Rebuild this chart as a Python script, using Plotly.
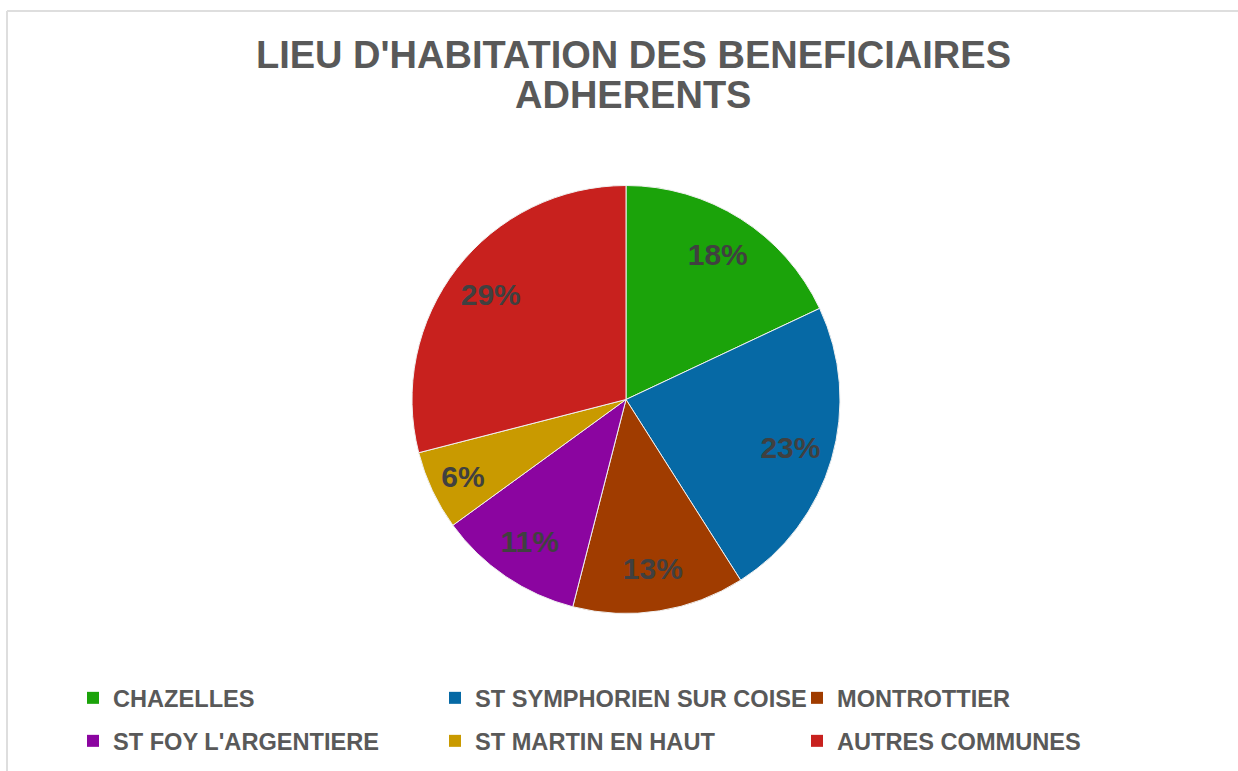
import plotly.graph_objects as go

labels = ["CHAZELLES", "ST SYMPHORIEN SUR COISE", "MONTROTTIER",
          "ST FOY L'ARGENTIERE", "ST MARTIN EN HAUT", "AUTRES COMMUNES"]
values = [18, 23, 13, 11, 6, 29]
colors = ["#1BA30A", "#0669A5", "#A03C00", "#8B05A0", "#C99A00", "#C8211E"]
title_lines = ["LIEU D'HABITATION DES BENEFICIAIRES", "ADHERENTS"]
legend_rows = [0, 0, 0, 1, 1, 1]

W, H = 1238, 771
FONT = "Liberation Sans, Arial, sans-serif"
pie_domain = dict(x=[412 / W, 840 / W], y=[1 - 614 / H, 1 - 185 / H])

fig = go.Figure()

# Filled pie (no text)
fig.add_trace(go.Pie(
    labels=labels, values=values, sort=False,
    direction="clockwise", rotation=0,
    marker=dict(colors=colors, line=dict(color="#f0f0f0", width=1)),
    textinfo="none",
    domain=pie_domain,
    showlegend=False,
    hoverinfo="label+percent",
))

# Transparent ring carrying the percentage labels further out, like the original
fig.add_trace(go.Pie(
    labels=labels, values=values, sort=False,
    direction="clockwise", rotation=0, hole=0.6,
    marker=dict(colors=["rgba(0,0,0,0)"] * len(labels), line=dict(width=0)),
    texttemplate="%{percent:.0%}",
    textposition="inside",
    insidetextorientation="horizontal",
    textfont=dict(family=FONT, size=30, color="#404040", weight="bold"),
    domain=pie_domain,
    showlegend=False,
    hoverinfo="skip",
))

# Legend entries (two rows of three)
for lab, col, row in zip(labels, colors, legend_rows):
    fig.add_trace(go.Scatter(
        x=[None], y=[None], mode="markers", name=lab,
        marker=dict(symbol="square", size=12, color=col),
        legend="legend" if row == 0 else "legend2",
        showlegend=True,
    ))

annotations = []
for i, line in enumerate(title_lines):
    annotations.append(dict(
        text="<b>" + line + "</b>", x=633 / W, y=1 - (55 + 40 * i) / H,
        xref="paper", yref="paper", xanchor="center", yanchor="middle",
        showarrow=False,
        font=dict(family=FONT, size=38, color="#595959"),
    ))

legend_common = dict(
    orientation="h",
    x=73 / W, xanchor="left", yanchor="middle",
    entrywidth=317, entrywidthmode="pixels",
    itemwidth=30,
    font=dict(family=FONT, size=23.6, color="#595959", weight="bold"),
    traceorder="normal",
    bgcolor="rgba(0,0,0,0)",
    itemclick=False, itemdoubleclick=False,
)

fig.update_layout(
    width=W, height=H,
    margin=dict(l=0, r=0, t=0, b=0),
    paper_bgcolor="white",
    plot_bgcolor="white",
    xaxis=dict(visible=False),
    yaxis=dict(visible=False),
    annotations=annotations,
    showlegend=True,
    legend=dict(legend_common, y=1 - 698 / H),
    legend2=dict(legend_common, y=1 - 741 / H),
    shapes=[
        dict(type="line", xref="paper", yref="paper", x0=7 / W, x1=1, y0=1 - 11 / H, y1=1 - 11 / H,
             line=dict(color="#dedede", width=2)),
        dict(type="line", xref="paper", yref="paper", x0=7 / W, x1=7 / W, y0=0, y1=1 - 11 / H,
             line=dict(color="#dedede", width=2)),
    ],
)

fig.write_html(
    "out.html",
    config={"displayModeBar": False},
    post_script="document.body.style.margin='0';document.body.style.overflow='hidden';",
)
